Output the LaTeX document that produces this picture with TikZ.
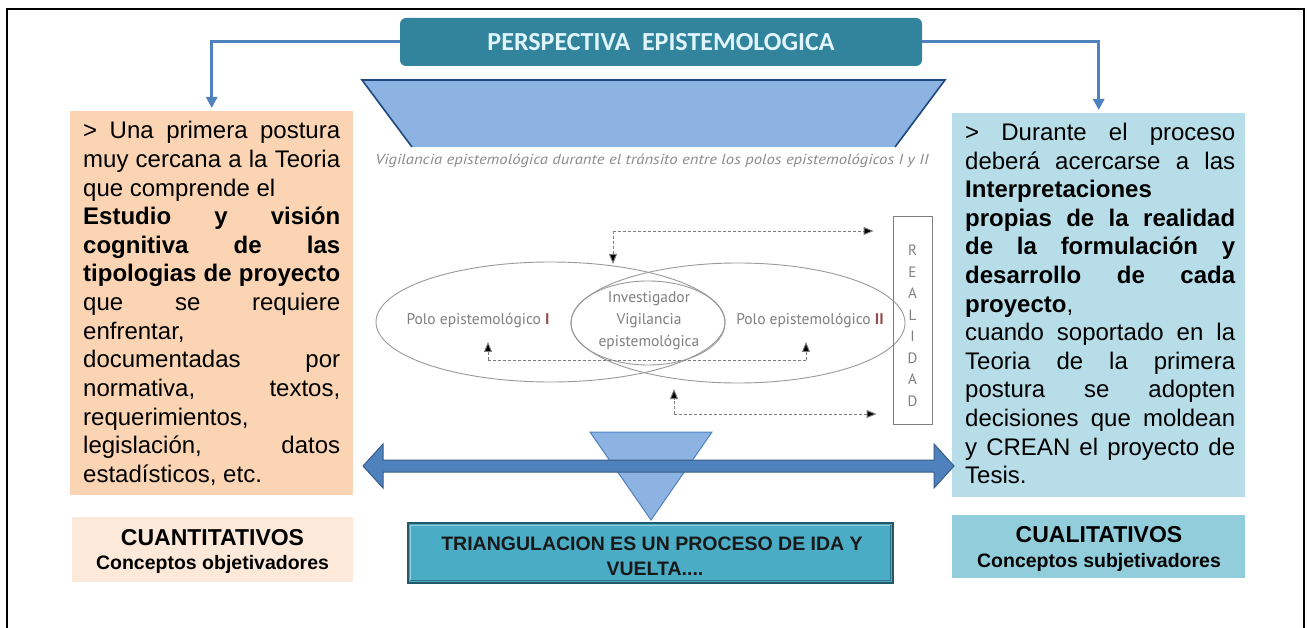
\documentclass[tikz,border=0pt]{standalone}
\usepackage{fontspec}
\setmainfont{Liberation Sans}
\newfontfamily\ptsans{PT Sans}
\newfontfamily\carl{Carlito}
\usetikzlibrary{arrows.meta,shapes.geometric,calc}
\definecolor{peach}{HTML}{FBD4B4}
\definecolor{peachlt}{HTML}{FDE9D9}
\definecolor{aqualt}{HTML}{B7DEE8}
\definecolor{aquamid}{HTML}{92CDDC}
\definecolor{cboxfill}{HTML}{4BACC6}
\definecolor{cboxdraw}{HTML}{215968}
\definecolor{titlefill}{HTML}{31849B}
\definecolor{arrowblue}{HTML}{4F81BD}
\definecolor{trapfill}{HTML}{8DB3E2}
\definecolor{trapdraw}{HTML}{1F497D}
\definecolor{darrdraw}{HTML}{385D8A}
\definecolor{diagray}{HTML}{7F7F7F}
\newcommand\jw[2]{\makebox[#1][s]{#2}}
\tikzset{
  titlebox/.style={fill=titlefill, rounded corners=6pt, minimum width=522, minimum height=48, inner sep=0,
    text=white!88!cyan, font=\carl\bfseries\fontsize{26}{30}\selectfont},
  bluearrow/.style={draw=arrowblue, line width=3pt, -{Triangle[length=11pt,width=11pt]}},
  panel/.style={inner sep=0, draw=none, anchor=north west},
  bodyline/.style={anchor=base west, inner sep=0, font=\fontsize{24}{28}\selectfont},
  ell/.style={draw=diagray!80, line width=0.9pt},
  diatext/.style={inner sep=0, text=diagray, font=\ptsans\fontsize{15.5}{22}\selectfont},
  dashln/.style={draw=diagray, line width=0.9pt, dash pattern=on 3pt off 2pt},
  dashar/.style={dashln, -{Triangle[length=10pt,width=8pt,fill=black]}},
  bigtxt/.style={anchor=base, inner sep=0, font=\bfseries\fontsize{23}{26}\selectfont},
  smltxt/.style={anchor=base, inner sep=0, font=\bfseries\fontsize{19.5}{22}\selectfont},
  ctxt/.style={anchor=base, inner sep=0, text=black!90, font=\bfseries\fontsize{19.5}{22}\selectfont},
}
\begin{document}
\begin{tikzpicture}[x=1pt,y=-1pt]
\useasboundingbox (0,0) rectangle (1307,628);
\fill[white] (0,0) rectangle (1307,628);
\draw[line width=2pt] (7,628) -- (7,9) -- (1304,9) -- (1304,628);

% title
\node[titlebox] (title) at (661,42) {PERSPECTIVA\ \ EPISTEMOLOGICA};

% side panels
\node[panel, fill=peach, minimum width=283, minimum height=384] (lbox) at (70,111) {};
\node[panel, fill=aqualt, minimum width=293, minimum height=384] (rbox) at (952,113) {};

\draw[bluearrow, shorten >=3pt] (title.west) -| (lbox.north);
\draw[bluearrow, shorten >=3pt] (title.east) -| (rbox.north);

% left text
\foreach \t [count=\i from 0] in {
  {\jw{257pt}{> Una primera postura}},
  {\jw{257pt}{muy cercana a la Teoria}},
  {que comprende el},
  {\jw{257pt}{\bfseries Estudio y visión}},
  {\jw{257pt}{\bfseries cognitiva de las}},
  {\jw{257pt}{\bfseries tipologias de proyecto}},
  {\jw{257pt}{que se requiere}},
  {enfrentar,},
  {\jw{257pt}{documentadas por}},
  {\jw{257pt}{normativa, textos,}},
  {requerimientos,},
  {\jw{257pt}{legislación, datos}},
  {estadísticos, etc.}}
  \node[bodyline] (L\i) at (83,{139+28.6*\i}) {\t};

% right text
\foreach \t [count=\i from 0] in {
  {\jw{270pt}{> Durante el proceso}},
  {\jw{270pt}{deberá acercarse a las}},
  {\bfseries Interpretaciones},
  {\jw{270pt}{\bfseries propias de la realidad}},
  {\jw{270pt}{\bfseries de la formulación y}},
  {\jw{270pt}{\bfseries desarrollo de cada}},
  {\textbf{proyecto},},
  {\jw{270pt}{cuando soportado en la}},
  {\jw{270pt}{Teoria de la primera}},
  {\jw{270pt}{postura se adopten}},
  {\jw{270pt}{decisiones que moldean}},
  {\jw{270pt}{y CREAN el proyecto de}},
  {Tesis.}}
  \node[bodyline] (R\i) at (965,{140.5+28.6*\i}) {\t};

% trapezoid
\fill[trapfill] (362,80) -- (945,80) -- (895,147) -- (412,147) -- cycle;
\draw[trapdraw, line width=1.6pt] (412,147) -- (362,80) -- (945,80) -- (895,147);
\node[inner sep=0, text=diagray!90, font=\ptsans\itshape\fontsize{14.5}{16}\selectfont] (cap) at (652,161)
  {\scalebox{1.15}[1]{Vigilancia epistemológica durante el tránsito entre los polos epistemológicos I y II}};

% ellipses
\draw[ell] (550.5,322) ellipse [x radius=174.5, y radius=60];
\draw[ell] (738,323) ellipse [x radius=167, y radius=60];
\node[ellipse, ell, minimum width=154, minimum height=84, inner sep=0] (inv) at (648,323) {};
\node[diatext, align=center] (invt) at (649,321) {Investigador\\Vigilancia\\epistemológica};
\node[diatext] (p1) at (478,321) {Polo epistemológico \textcolor{black!60!red!70}{\bfseries I}};
\node[diatext] (p2) at (810,321) {Polo epistemológico \textcolor{black!60!red!70}{\bfseries II}};

% realidad
\node[draw=diagray, line width=0.8pt, minimum width=39, minimum height=208, inner sep=0] (real) at (912.5,320) {};
\node[inner sep=0, align=center, text=diagray, font=\ptsans\fontsize{15}{21.5}\selectfont] (realt) at (912.5,326) {R\\E\\A\\L\\I\\D\\A\\D};

% dashed arrows
\coordinate (t0) at (613,231);
\coordinate (t1) at (613,264);
\coordinate (t2) at (real.west |- t0);
\draw[dashar] (t0) -- (t1);
\draw[dashar, shorten >=19pt] (t0) -- (t2);
\coordinate (m0) at (488,360);
\coordinate (m1) at (806,360);
\coordinate (m0a) at (488,342);
\coordinate (m1a) at (806,342);
\draw[dashln] (m0) -- (m1);
\draw[dashar] (m0) -- (m0a);
\draw[dashar] (m1) -- (m1a);
\coordinate (b0) at (674,414);
\coordinate (b1) at (674,389);
\coordinate (b2) at (real.west |- b0);
\draw[dashar] (b0) -- (b1);
\draw[dashar, shorten >=16pt] (b0) -- (b2);

% triangle and double arrow
\filldraw[fill=trapfill, draw=arrowblue, line width=1pt] (590,432) -- (712,432) -- (651,520) -- cycle;
\filldraw[fill=arrowblue, draw=darrdraw, line width=1pt]
  (363,466) -- (383,444) -- (383,460) -- (934,460) -- (934,444) -- (954,466)
  -- (934,488) -- (934,472) -- (383,472) -- (383,488) -- cycle;

% bottom boxes
\node[fill=peachlt, minimum width=281, minimum height=65, inner sep=0] (cuan) at (212.5,549.5) {};
\node[bigtxt] (cuanA) at (212.5,545) {CUANTITATIVOS};
\node[smltxt] (cuanB) at (212.5,569) {Conceptos objetivadores};

\node[fill=aquamid, minimum width=293, minimum height=63, inner sep=0] (cual) at (1098.5,546.5) {};
\node[bigtxt] (cualA) at (1099,542) {CUALITATIVOS};
\node[smltxt] (cualB) at (1099,567) {Conceptos subjetivadores};

\node[fill=cboxfill, draw=cboxdraw, line width=1.5pt, minimum width=485, minimum height=60, inner sep=0] (tribox) at (650.5,553) {};
\draw[cboxfill!60!white, line width=1.2pt] ([shift={(3,-3)}]tribox.south west) |- ([shift={(-3,3)}]tribox.north east);
\draw[cboxdraw!70!cboxfill, line width=1.2pt] ([shift={(3,-3)}]tribox.south west) -| ([shift={(-3,3)}]tribox.north east);
\node[ctxt] (triA) at (652,550) {TRIANGULACION ES UN PROCESO DE IDA Y};
\node[ctxt] (triB) at (655,575) {VUELTA....};
\end{tikzpicture}
\end{document}
